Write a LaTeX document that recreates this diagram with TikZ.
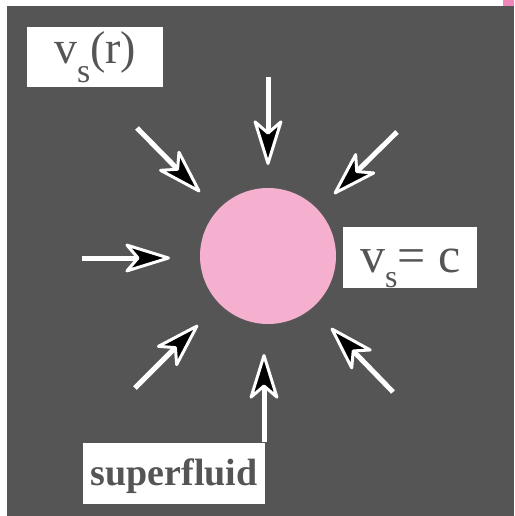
\documentclass[tikz,border=0pt]{standalone}
\usepackage{fontspec}
\setmainfont{Liberation Serif}
\usetikzlibrary{arrows.meta}
\definecolor{slate}{HTML}{555555}
\definecolor{blush}{HTML}{F5B0CF}
\definecolor{rosetab}{HTML}{EE88BB}
\newcommand\lowsub[3]{\raisebox{-#1}{\fontsize{#2}{#2}\selectfont #3}}
\tikzset{
    inflow/.style={
        white,
        line width=5pt,
        -{Stealth[length=34pt,width=21pt,inset=9pt,fill=black,line width=3pt,round,scale=1.5]}
    },
    tag/.style={
        fill=white,
        text=slate,
        inner sep=0pt,
        anchor=north west
    }
}
\begin{document}
\begin{tikzpicture}[x=1pt,y=-1pt]
    \useasboundingbox (0,0) rectangle (514,516);
    \fill[slate] (7,6) rectangle (514,516);
    \fill[rosetab] (503,0) rectangle (514,6);
    \node[circle, fill=blush, minimum size=136pt, inner sep=0pt] (drop) at (268,256) {};
    % inflow arrows towards the drop
    \foreach \i/\sx/\sy/\tx/\ty in {
        n/268/77/268/165, nw/137/128/200/192, ne/397/132/334/194,
        w/82/258/170/258, sw/135/388/198/325, s/264/442/264/354,
        se/393/392/331/328}{
        \coordinate (src-\i) at (\sx,\sy);
        \coordinate (tip-\i) at (\tx,\ty);
        \draw[inflow] (src-\i) -- (tip-\i);
    }
    \node[tag, minimum width=136pt, text height=36.5pt, text depth=23.5pt] (field) at (27,27)
        {\fontsize{46pt}{46pt}\selectfont v\lowsub{19pt}{34pt}{s}(r)};
    \node[tag, minimum width=134pt, text height=45pt, text depth=16pt] (edge) at (343,227)
        {\fontsize{50pt}{50pt}\selectfont v\lowsub{15pt}{32pt}{s}= c};
    \node[tag, minimum width=182pt, text height=42pt, text depth=19pt] (bulk) at (83,443)
        {\fontsize{38pt}{38pt}\selectfont\bfseries superfluid};
\end{tikzpicture}
\end{document}
